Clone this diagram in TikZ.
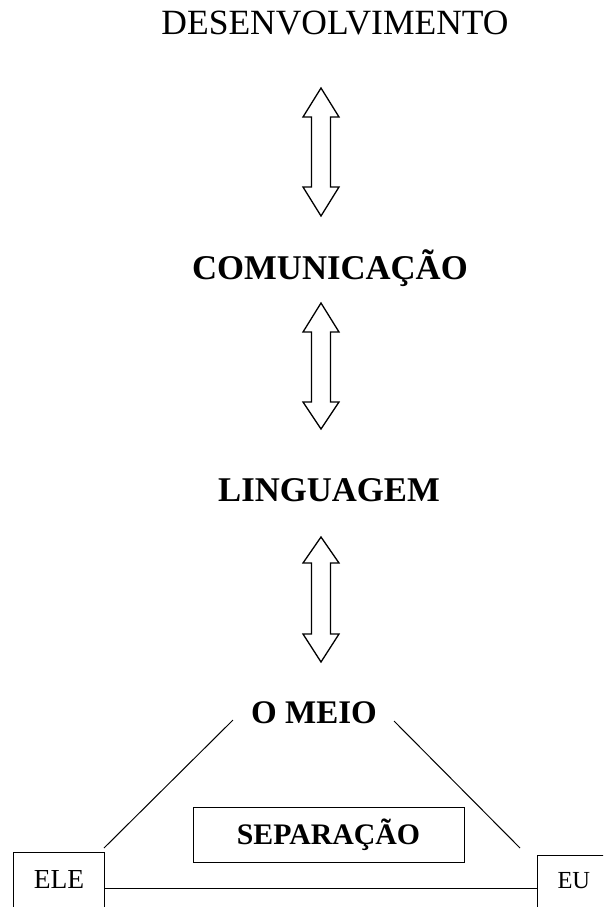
\documentclass[tikz,border=0pt]{standalone}
\usepackage{fontspec}
\setmainfont{Liberation Serif}
\newcommand{\blockarrow}[5]{%
  % #1 x, #2 top tip, #3 top base, #4 bottom base, #5 bottom tip
  \draw[arrowline] (#1,#2) -- (#1+18,#3) -- (#1+9.5,#3) -- (#1+9.5,#4) -- (#1+18,#4)
    -- (#1,#5) -- (#1-18,#4) -- (#1-9.5,#4) -- (#1-9.5,#3) -- (#1-18,#3) -- cycle;}
\begin{document}
\begin{tikzpicture}[x=1pt,y=-1pt,
  lbl/.style={anchor=base,inner sep=0pt},
  big/.style={lbl,font=\fontsize{35.5}{40}\selectfont},
  bigbold/.style={lbl,font=\fontsize{34.7}{40}\selectfont\bfseries},
  arrowline/.style={line width=1.3pt,line join=miter,fill=white},
  thin/.style={line width=1pt},
  boxed/.style={draw,line width=1pt,inner sep=0pt}]
\clip (0,0) rectangle (603,907);
\fill[white] (0,0) rectangle (603,907);
% texts
\node[big] (des) at (335,35) {DESENVOLVIMENTO};
\node[bigbold] (com) at (330,279) {COMUNICAÇÃO};
\node[bigbold] (lin) at (329,501) {LINGUAGEM};
\node[lbl,font=\fontsize{33}{40}\selectfont\bfseries] (meio) at (314,723) {O MEIO};
% block arrows
\blockarrow{321}{88}{117}{187}{216}
\blockarrow{321}{303}{332}{402}{429}
\blockarrow{321}{537}{563}{634}{662}
% boxes
\node[boxed,minimum width=271pt,minimum height=55pt,
  font=\fontsize{29.8}{34}\selectfont\bfseries,text height=20pt,text depth=0pt] (sep) at (328.5,834.5) {SEPARAÇÃO};
\node[boxed,minimum width=91pt,minimum height=57pt,anchor=north west,
  font=\fontsize{27.5}{30}\selectfont,text height=18pt,text depth=3pt] (ele) at (13,852) {ELE};
\node[boxed,minimum width=80pt,minimum height=60pt,anchor=north west,
  font=\fontsize{24.5}{30}\selectfont,text height=16pt,text depth=10pt,
  align=left,text width=70pt,inner xsep=20pt] (eu) at (537,855) {EU};
% connectors
\coordinate (lt) at (233,720);
\coordinate (lb) at (104,848);
\coordinate (rt) at (394,721);
\coordinate (rb) at (520,848);
\coordinate (hy) at (0,888);
\draw[thin] (lt) -- (lb);
\draw[thin] (rt) -- (rb);
\draw[thin] (ele.east |- hy) -- (eu.west |- hy);
\end{tikzpicture}
\end{document}
